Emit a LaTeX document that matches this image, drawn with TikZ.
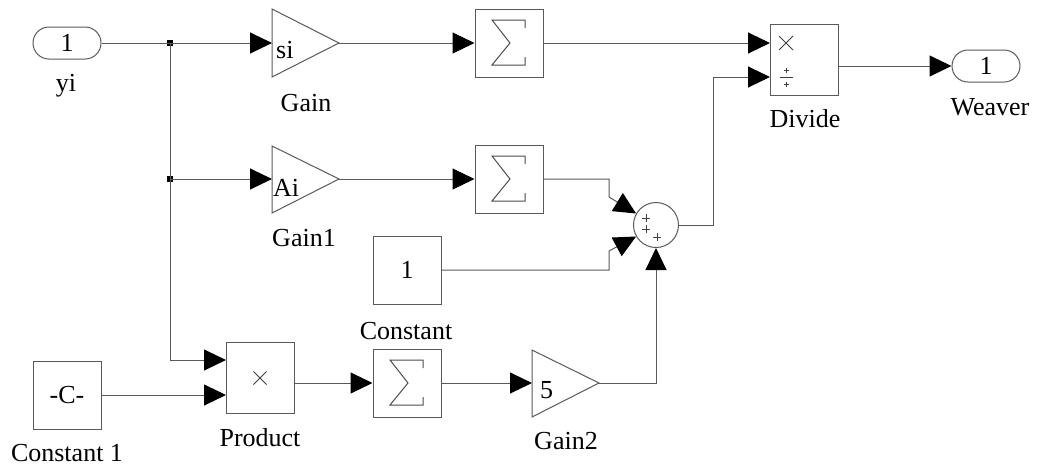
\documentclass[tikz,border=0pt]{standalone}
\usepackage{fontspec}
\setmainfont{Liberation Serif}
\usetikzlibrary{arrows.meta,shapes.misc}
\begin{document}
\begin{tikzpicture}[x=1pt,y=-1pt,
  ln/.style={draw=black!65,line width=1pt},
  arr/.style={ln,-{Triangle[length=22pt,width=21pt,color=black]}},
  blk/.style={draw=black!65,line width=1pt,fill=white,rectangle,inner sep=0pt,
    minimum width=68pt,minimum height=68pt,font=\fontsize{26}{30}\selectfont},
  port/.style={draw=black!65,line width=1pt,rounded rectangle,minimum width=68pt,
    minimum height=32pt,inner sep=0pt,font=\fontsize{26}{30}\selectfont},
  lbl/.style={anchor=base,inner sep=0pt,font=\fontsize{26}{30}\selectfont},
  gtxt/.style={anchor=base west,inner sep=0pt,font=\fontsize{26}{30}\selectfont},
  tri/.style={draw=black!65,line width=1pt},
  sig/.style={draw=black!70,line width=1pt},
  sym/.style={draw=black!75,line width=0.8pt},
  jdot/.style={fill=black,minimum size=6pt,inner sep=0pt,rectangle}]
\useasboundingbox (0,0) rectangle (1037,467);

% ports
\node[port] (yi) at (67,43) {1};
\node[lbl] (yil) at (66,91) {yi};
\node[port] (wv) at (986,66) {1};
\node[lbl] (wvl) at (990,115) {Weaver};

% gains
\draw[tri] (272,9) -- (339,43) -- (272,77) -- cycle;
\coordinate (g0i) at (272,43); \coordinate (g0o) at (339,43);
\node[gtxt] (g0t) at (276,58) {si};
\node[lbl] (g0l) at (306,111) {Gain};

\draw[tri] (272,146) -- (339,179) -- (272,213) -- cycle;
\coordinate (g1i) at (272,179); \coordinate (g1o) at (339,179);
\node[gtxt] (g1t) at (273,196) {Ai};
\node[lbl] (g1l) at (304,246) {Gain1};

\draw[tri] (532,350) -- (599,383) -- (532,417) -- cycle;
\coordinate (g2i) at (532,383); \coordinate (g2o) at (599,383);
\node[gtxt] (g2t) at (540,398) {5};
\node[lbl] (g2l) at (566,449) {Gain2};

% sum blocks
\node[blk] (s1) at (509,43) {};
\node[blk] (s2) at (509,179) {};
\node[blk] (s3) at (407,383) {};
\foreach \s in {s1,s2,s3}{
  \draw[sig] (\s.center) ++(16,-15) -- ++(0,-8) -- ++(-33,0) -- ++(18,23) -- ++(-18,22) -- ++(33,0) -- ++(0,-8);
}

% constants
\node[blk] (k) at (407,270) {1};
\node[lbl] (kl) at (406,339) {Constant};
\node[blk] (c1) at (67,395) {-C-};
\node[lbl] (c1l) at (67,461) {Constant 1};

% product
\node[blk,minimum height=71pt] (pr) at (260,377.5) {};
\draw[sym] (253.5,371.5) -- (266.5,384.5) (253.5,384.5) -- (266.5,371.5);
\coordinate (p1) at (226,360); \coordinate (p2) at (226,395); \coordinate (po) at (294,383);
\node[lbl] (prl) at (260,446) {Product};

% divide
\node[blk,minimum height=71pt] (dv) at (804,59.5) {};
\draw[sym] (779,36) -- (793,50) (779,50) -- (793,36);
\draw[sym] (780,77) -- (793,77);
\draw[sym,line width=0.6pt] (783.5,70) -- (788.5,70) (786,67.5) -- (786,72.5);
\draw[sym,line width=0.6pt] (783.5,84) -- (788.5,84) (786,81.5) -- (786,86.5);
\coordinate (d1) at (770,43); \coordinate (d2) at (770,77); \coordinate (do) at (838,66);
\node[lbl] (dvl) at (805,127) {Divide};

% sum circle
\node[draw=black!65,line width=1pt,circle,minimum size=45pt,inner sep=0pt,fill=white] (sc) at (656,225) {};
\draw[sym] (642,218) -- (650,218) (646,214) -- (646,222);
\draw[sym] (642,229) -- (650,229) (646,225) -- (646,233);
\draw[sym] (653,237) -- (661,237) (657,233) -- (657,241);

% junctions
\node[jdot] (j1) at (170,43) {};
\node[jdot] (j2) at (170,179) {};

% connectors
\draw[arr] (yi.east) -- (g0i);
\draw[arr] (j1.center) |- (p1);
\draw[arr] (j2.center) -- (g1i);
\draw[arr] (g0o) -- (s1.west);
\draw[arr] (g1o) -- (s2.west);
\draw[arr] (s1.east) -- (d1);
\draw[arr] (s2.east) -| (609,197) -- (sc.150);
\draw[arr] (k.east) -| (609,251) -- (sc.210);
\draw[arr] (g2o) -| (sc.south);
\draw[arr] (sc.east) -| (713,77) -- (d2);
\draw[arr] (do) -- (wv.west);
\draw[arr] (c1.east) -- (p2);
\draw[arr] (po) -- (s3.west);
\draw[arr] (s3.east) -- (g2i);
\end{tikzpicture}
\end{document}
